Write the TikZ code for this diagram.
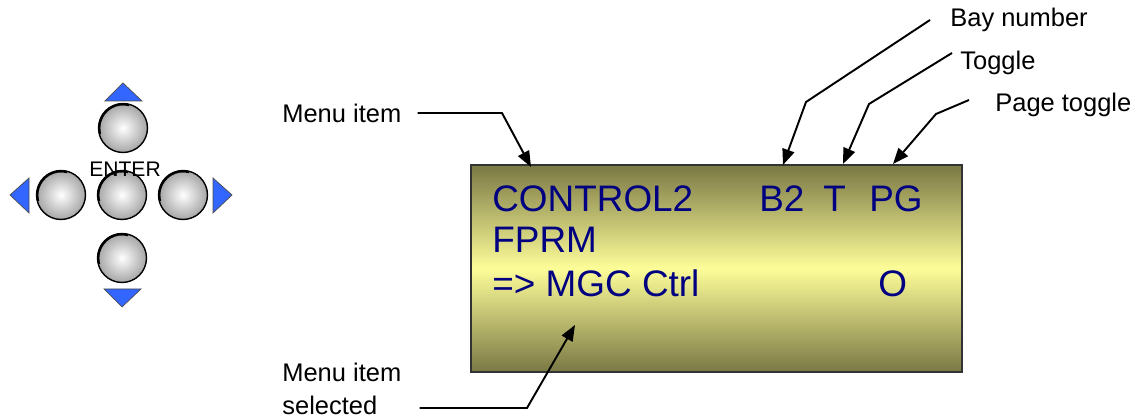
\documentclass[tikz,border=0pt]{standalone}
\usepackage{fontspec}
\setmainfont{Liberation Sans}
\usepackage{tikz}
\usetikzlibrary{
  arrows.meta,
  positioning,
  calc
}
\usepackage{xcolor}
\definecolor{lcdolive} {RGB}{122, 120,  68}
\definecolor{lcdyellow}{RGB}{253, 253, 153}
\definecolor{lcdtext}  {RGB}{  0,   0, 128}
\definecolor{keyblue}  {RGB}{ 51, 102, 255}
\tikzset{
  lcdpanel/.style={
    draw=black!80, thick,
    top color=lcdolive, bottom color=lcdolive, middle color=lcdyellow,
    minimum width=9.82cm, minimum height=4.14cm
  },
  lcdline/.style={
    anchor=base west, inner sep=0pt, text=lcdtext,
    font=\fontsize{21}{24}\selectfont
  },
  callout/.style={
    anchor=west, inner sep=0pt, align=left,
    font=\fontsize{14.5}{18.5}\selectfont
  },
  pointer/.style={
    line width=1.1pt, -{Triangle[length=9pt, width=7pt]}
  },
  keybtn/.style={
    circle, draw=black, thick, minimum size=0.98cm, inner sep=0pt,
    inner color=white, outer color=black!35,
    path picture={
      \draw[line width=2.2pt]
        (path picture bounding box.center) ++(75:0.49cm)
        arc (75:195:0.49cm);
    }
  },
  keytri/.style={
    fill=keyblue, draw=black!70, line join=miter
  },
}

\begin{document}
\begin{tikzpicture}[x=0.02cm, y=0.02cm]
\useasboundingbox (0,0) rectangle (1143,419);

% ── Keypad ────────────────────────────────────────────────────────────────────
\node[keybtn] (kup)    at (123,291) {};
\node[keybtn] (kleft)  at (61,224)  {};
\node[keybtn] (kenter) at (122,224) {};
\node[keybtn] (kright) at (183,224) {};
\node[keybtn] (kdown)  at (122,161) {};

\filldraw[keytri] (105,318) -- (123,336) -- (142,318) -- cycle;
\filldraw[keytri] (104,130) -- (122,112) -- (141,130) -- cycle;
\filldraw[keytri] (29,241)  -- (10,224)  -- (29,206)  -- cycle;
\filldraw[keytri] (213,241) -- (232,224) -- (213,206) -- cycle;

\node[inner sep=0pt, anchor=base, font=\fontsize{12}{14}\selectfont]
  (enter) at (125,242) {ENTER};

% ── LCD panel ─────────────────────────────────────────────────────────────────
\node[lcdpanel] (lcd) at (716.5,150.5) {};

\node[lcdline] (row1)  at (492,207) {CONTROL2};
\node[lcdline] (row2)  at (492,166) {FPRM};
\node[lcdline] (row3)  at (492,122) {=> MGC Ctrl};
\node[lcdline] (bay)   at (759,207) {B2};
\node[lcdline] (tog)   at (823,207) {T};
\node[lcdline] (page)  at (869,207) {PG};
\node[lcdline] (sel)   at (878,122) {O};

% ── Callout labels ────────────────────────────────────────────────────────────
\node[callout] (lmenu)  at (282,306) {Menu item};
\node[callout] (lsel)   at (282,30)  {Menu item\\selected};
\node[callout] (lbay)   at (950,399) {Bay number};
\node[callout] (ltog)   at (960,356) {Toggle};
\node[callout] (lpage)  at (995,314) {Page toggle};

% ── Arrow tips on the panel ───────────────────────────────────────────────────
\coordinate (tmenu) at (531,252);
\coordinate (tsel)  at (575,94);
\coordinate (tbay)  at (783,254);
\coordinate (ttog)  at (843,255);
\coordinate (tpage) at (893,255);

% ── Pointers ──────────────────────────────────────────────────────────────────
\draw[pointer] ([xshift=0.32cm]lmenu.east) -- (502,306) -- (tmenu);
\draw[pointer] ([xshift=0.36cm]lsel.east |- 0,11) -- (527,11) -- (tsel);
\draw[pointer] ([xshift=-0.4cm]lbay.west)  -- (806,317) -- (tbay);
\draw[pointer] ([xshift=-0.16cm,yshift=0.2cm]ltog.west) -- (869,315) -- (ttog);
\draw[pointer] ([xshift=-0.52cm,yshift=0.1cm]lpage.west) -- (936,305) -- (tpage);

\end{tikzpicture}
\end{document}
